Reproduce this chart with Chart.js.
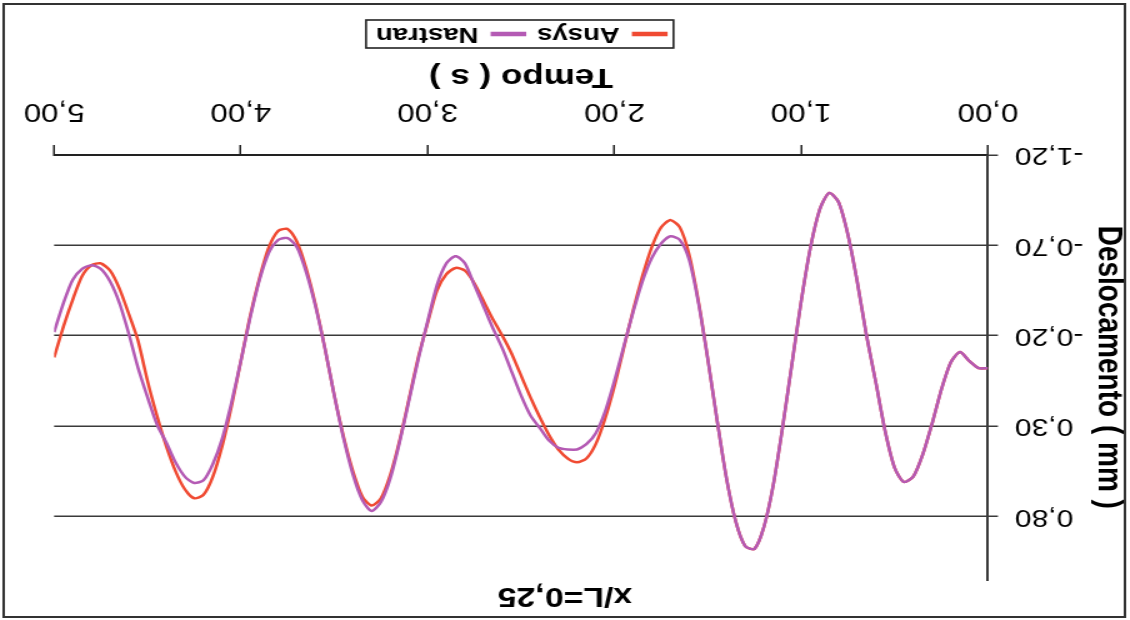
<!DOCTYPE html>
<html>
<head>
<meta charset="utf-8">
<script src="https://cdn.jsdelivr.net/npm/chart.js@4.4.0/dist/chart.umd.min.js"></script>
<style>
  html, body { margin: 0; padding: 0; background: #fff; }
  #wrap { position: relative; width: 1130px; height: 620px; overflow: hidden; }
  /* a folha original foi digitalizada de cabeça para baixo e esticada na horizontal */
  #chart { position: absolute; left: 0; top: 0; transform-origin: 0 0;
           transform: translate(1130px, 620px) rotate(180deg) scaleX(1.25); }
</style>
</head>
<body>
<div id="wrap"><canvas id="chart" width="904" height="620"></canvas></div>
<script>
// tempo (s)
const tempo = [
  0.00, 0.05, 0.10, 0.15, 0.20, 0.25, 0.30, 0.35, 0.40, 0.45,
  0.50, 0.55, 0.60, 0.65, 0.70, 0.75, 0.80, 0.85, 0.90, 0.95,
  1.00, 1.05, 1.10, 1.15, 1.20, 1.25, 1.30, 1.35, 1.40, 1.45,
  1.50, 1.55, 1.60, 1.65, 1.70, 1.75, 1.80, 1.85, 1.90, 1.95,
  2.00, 2.05, 2.10, 2.15, 2.20, 2.25, 2.30, 2.35, 2.40, 2.45,
  2.50, 2.55, 2.60, 2.65, 2.70, 2.75, 2.80, 2.85, 2.90, 2.95,
  3.00, 3.05, 3.10, 3.15, 3.20, 3.25, 3.30, 3.35, 3.40, 3.45,
  3.50, 3.55, 3.60, 3.65, 3.70, 3.75, 3.80, 3.85, 3.90, 3.95,
  4.00, 4.05, 4.10, 4.15, 4.20, 4.25, 4.30, 4.35, 4.40, 4.45,
  4.50, 4.55, 4.60, 4.65, 4.70, 4.75, 4.80, 4.85, 4.90, 4.95,
  5.00
];

// deslocamento (mm)
const ansys = [
  -0.02, -0.02, -0.06, -0.11, -0.05, 0.10, 0.29, 0.46, 0.58, 0.61,
  0.53, 0.33, 0.06, -0.20, -0.50, -0.76, -0.94, -0.99, -0.90, -0.69,
  -0.39, -0.04, 0.31, 0.63, 0.86, 0.98, 0.965, 0.83, 0.59, 0.27,
  -0.07, -0.39, -0.65, -0.80, -0.84, -0.80, -0.69, -0.53, -0.34, -0.13,
  0.08, 0.26, 0.40, 0.48, 0.50, 0.48, 0.43, 0.35, 0.25, 0.14,
  0.02, -0.10, -0.20, -0.29, -0.39, -0.49, -0.56, -0.575, -0.54, -0.45,
  -0.27, -0.08, 0.15, 0.38, 0.57, 0.70, 0.74, 0.69, 0.55, 0.36,
  0.13, -0.13, -0.37, -0.57, -0.72, -0.79, -0.78, -0.69, -0.52, -0.31,
  -0.06, 0.19, 0.41, 0.58, 0.68, 0.70, 0.65, 0.55, 0.41, 0.24,
  0.05, -0.17, -0.32, -0.46, -0.56, -0.60, -0.59, -0.53, -0.40, -0.25,
  -0.08
];

const nastran = [
  -0.02, -0.02, -0.06, -0.11, -0.05, 0.10, 0.29, 0.46, 0.58, 0.61,
  0.53, 0.33, 0.06, -0.20, -0.50, -0.76, -0.94, -0.99, -0.90, -0.69,
  -0.39, -0.04, 0.31, 0.63, 0.86, 0.98, 0.965, 0.83, 0.59, 0.27,
  -0.07, -0.38, -0.62, -0.73, -0.75, -0.71, -0.63, -0.50, -0.33, -0.14,
  0.05, 0.22, 0.34, 0.40, 0.43, 0.43, 0.42, 0.38, 0.31, 0.24,
  0.13, 0.00, -0.13, -0.24, -0.36, -0.48, -0.60, -0.64, -0.60, -0.48,
  -0.28, -0.07, 0.16, 0.39, 0.59, 0.72, 0.77, 0.71, 0.57, 0.37,
  0.13, -0.13, -0.36, -0.55, -0.69, -0.74, -0.73, -0.66, -0.51, -0.30,
  -0.06, 0.17, 0.37, 0.51, 0.60, 0.615, 0.58, 0.50, 0.39, 0.29,
  0.14, -0.02, -0.21, -0.38, -0.50, -0.57, -0.59, -0.57, -0.51, -0.38,
  -0.22
];

const seriesNames = ["Ansys", "Nastran"];
const xTicks = [0, 1, 2, 3, 4, 5];
const yTicks = [-1.2, -0.7, -0.2, 0.3, 0.8];
const titulo = "x/L=0,25";

const F = "'Liberation Sans', Arial, sans-serif";
const virgula = v => Number(v).toFixed(2).replace(".", ",");

const moldura = {
  id: "moldura",
  beforeDraw(chart) {
    const ctx = chart.ctx;
    ctx.save();
    ctx.fillStyle = "#fff";
    ctx.fillRect(0, 0, chart.width, chart.height);
    ctx.restore();
  },
  afterDraw(chart) {
    const ctx = chart.ctx;
    ctx.save();
    ctx.strokeStyle = "#333";
    ctx.lineWidth = 2;
    ctx.strokeRect(4, 3, chart.width - 7, chart.height - 7);
    // caixa em volta da legenda
    const boxes = chart.legend.legendHitBoxes || [];
    if (boxes.length) {
      const l = Math.min(...boxes.map(b => b.left)) - 6;
      const r = Math.max(...boxes.map(b => b.left + b.width)) + 8;
      const t = Math.min(...boxes.map(b => b.top)) - 3;
      const b2 = Math.max(...boxes.map(b => b.top + b.height)) + 3;
      ctx.lineWidth = 1.6;
      ctx.strokeStyle = "#222";
      ctx.strokeRect(l, t, r - l, b2 - t);
    }
    ctx.restore();
  }
};

const ctx = document.getElementById("chart").getContext("2d");
new Chart(ctx, {
  type: "line",
  data: {
    datasets: [
      {
        label: seriesNames[0],
        data: tempo.map((t, i) => ({ x: t, y: ansys[i] })),
        borderColor: "#f04a32",
        backgroundColor: "#f04a32",
        borderWidth: 2.5,
        pointRadius: 0,
        tension: 0.25,
        order: 2
      },
      {
        label: seriesNames[1],
        data: tempo.map((t, i) => ({ x: t, y: nastran[i] })),
        borderColor: "#b45ab4",
        backgroundColor: "#b45ab4",
        borderWidth: 2.5,
        pointRadius: 0,
        tension: 0.25,
        order: 1
      }
    ]
  },
  options: {
    responsive: false,
    animation: false,
    layout: { padding: { left: 0, right: 0, top: 0, bottom: 13 } },
    plugins: {
      title: {
        display: true,
        text: titulo,
        color: "#000",
        font: { family: F, size: 27, weight: "bold" },
        padding: { top: 8, bottom: 0 }
      },
      legend: {
        position: "bottom",
        fullSize: false,
        labels: {
          color: "#000",
          font: { family: F, size: 22, weight: "bold" },
          boxWidth: 26,
          boxHeight: 2,
          padding: 10,
          sort: (a, b) => a.datasetIndex - b.datasetIndex
        }
      },
      tooltip: { enabled: false }
    },
    scales: {
      x: {
        type: "linear",
        min: 0,
        max: 5,
        afterBuildTicks: s => { s.ticks = xTicks.map(v => ({ value: v })); },
        afterFit: s => { s.height = 100; },
        ticks: {
          color: "#000",
          font: { family: F, size: 25 },
          padding: 19,
          maxRotation: 0,
          autoSkip: false,
          callback: virgula
        },
        grid: { display: true, drawOnChartArea: false, drawTicks: true, tickLength: 10, color: "#222", lineWidth: 1.5 },
        border: { display: true, color: "#222", width: 2 },
        title: {
          display: true,
          text: "Tempo ( s )",
          color: "#000",
          font: { family: F, size: 28, weight: "bold" },
          padding: { top: 0, bottom: 5 }
        }
      },
      y: {
        min: -1.2,
        max: 1.15,
        afterBuildTicks: s => { s.ticks = yTicks.map(v => ({ value: v })); },
        afterFit: s => { s.width = 113.6; },
        ticks: {
          color: "#000",
          font: { family: F, size: 24 },
          padding: 13.6,
          callback: virgula
        },
        grid: { color: "#3a3a3a", lineWidth: 1.5, tickLength: 8, drawTicks: true },
        border: { display: true, color: "#3a3a3a", width: 2 },
        title: {
          display: true,
          text: "Deslocamento ( mm )",
          color: "#000",
          font: { family: F, size: 28, weight: "bold" },
          padding: 0
        }
      },
      yR: {
        position: "right",
        afterFit: s => { s.width = 33.6; },
        ticks: { display: false },
        grid: { display: false },
        border: { display: false }
      }
    }
  },
  plugins: [moldura]
});
</script>
</body>
</html>
